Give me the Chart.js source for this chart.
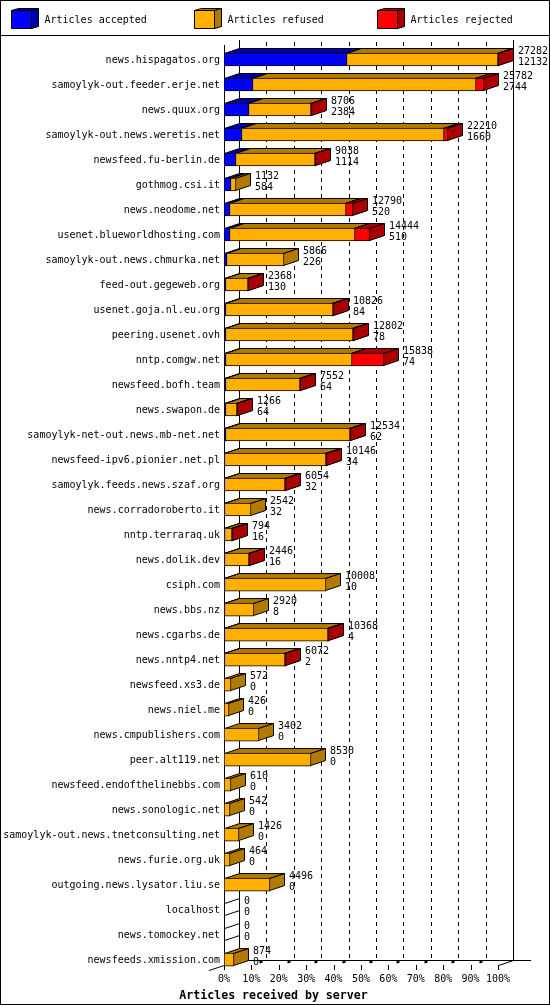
<!DOCTYPE html>
<html>
<head>
<meta charset="utf-8">
<title>Articles received by server</title>
<script src="https://cdn.jsdelivr.net/npm/chart.js@4/dist/chart.umd.min.js"></script>
<style>
  html, body { margin: 0; padding: 0; background: #fff; }
  canvas { display: block; }
</style>
</head>
<body>
<canvas id="serverChart" width="550" height="1005"></canvas>
<script>
const servers = [
  "news.hispagatos.org", "samoylyk-out.feeder.erje.net", "news.quux.org", "samoylyk-out.news.weretis.net",
  "newsfeed.fu-berlin.de", "gothmog.csi.it", "news.neodome.net", "usenet.blueworldhosting.com",
  "samoylyk-out.news.chmurka.net", "feed-out.gegeweb.org", "usenet.goja.nl.eu.org", "peering.usenet.ovh",
  "nntp.comgw.net", "newsfeed.bofh.team", "news.swapon.de", "samoylyk-net-out.news.mb-net.net",
  "newsfeed-ipv6.pionier.net.pl", "samoylyk.feeds.news.szaf.org", "news.corradoroberto.it", "nntp.terraraq.uk",
  "news.dolik.dev", "csiph.com", "news.bbs.nz", "news.cgarbs.de", "news.nntp4.net", "newsfeed.xs3.de",
  "news.niel.me", "news.cmpublishers.com", "peer.alt119.net", "newsfeed.endofthelinebbs.com",
  "news.sonologic.net", "samoylyk-out.news.tnetconsulting.net", "news.furie.org.uk",
  "outgoing.news.lysator.liu.se", "localhost", "news.tomockey.net", "newsfeeds.xmission.com"
];
const received = [
  27282, 25782, 8706, 22210, 9038, 1132, 12790, 14444, 5866, 2368, 10826, 12802, 15838, 7552, 1266, 12534,
  10146, 6054, 2542, 794, 2446, 10008, 2920, 10368, 6072, 572, 426, 3402, 8530, 610, 542, 1426, 464, 4496, 0, 0, 874
];
const accepted = [
  12132, 2744, 2384, 1660, 1114, 584, 520, 510, 226, 130, 84, 78, 74, 64, 64, 62,
  34, 32, 32, 16, 16, 10, 8, 4, 2, 0, 0, 0, 0, 0, 0, 0, 0, 0, 0, 0, 0
];
const refused = [
  15050, 22238, 6222, 20120, 7824, 548, 11570, 12434, 5640, 2138, 10642, 12624, 12564, 7388, 1102, 12372,
  10012, 5922, 2510, 678, 2330, 9998, 2912, 10264, 5970, 572, 426, 3402, 8530, 610, 542, 1426, 464, 4496, 0, 0, 874
];
const rejected = [
  100, 800, 100, 430, 100, 0, 700, 1500, 0, 100, 100, 100, 3200, 100, 100, 100,
  100, 100, 0, 100, 100, 0, 0, 100, 100, 0, 0, 0, 0, 0, 0, 0, 0, 0, 0, 0, 0
];
const percentTicks = ["0%", "10%", "20%", "30%", "40%", "50%", "60%", "70%", "80%", "90%", "100%"];
const maxReceived = 27282;

const BLACK = "#000";
const MONO = "'DejaVu Sans Mono', monospace";
const DX = 15, DY = 5;   // depth of the 3d box

Chart.defaults.font.family = MONO;
Chart.defaults.font.size = 10;
Chart.defaults.color = BLACK;

function crisp(v) { return Math.round(v) + 0.5; }

function poly(ctx, pts, fill) {
  ctx.beginPath();
  pts.forEach((p, i) => i ? ctx.lineTo(p[0], p[1]) : ctx.moveTo(p[0], p[1]));
  ctx.closePath();
  if (fill) { ctx.fillStyle = fill; ctx.fill(); }
  ctx.stroke();
}

function line(ctx, x1, y1, x2, y2) {
  ctx.beginPath();
  ctx.moveTo(x1, y1);
  ctx.lineTo(x2, y2);
  ctx.stroke();
}

// frame, legend cubes, back walls and dashed grid, all behind the bars
const backdrop = {
  id: "backdrop",
  beforeDatasetsDraw(chart) {
    const ctx = chart.ctx;
    const xs = chart.scales.x;
    ctx.save();
    ctx.strokeStyle = BLACK;
    ctx.lineWidth = 1;

    ctx.strokeRect(0.5, 0.5, 549, 1004);
    line(ctx, 0, 35.5, 550, 35.5);

    const legendX = [[11, 44.5], [194, 227.5], [377, 410.5]];
    chart.data.datasets.forEach((ds, i) => {
      const x = legendX[i][0];
      poly(ctx, [[x + .5, 10.5], [x + 7.5, 8.5], [x + 27.5, 8.5], [x + 20.5, 10.5]], ds.topColor);
      poly(ctx, [[x + 20.5, 10.5], [x + 27.5, 8.5], [x + 27.5, 26.5], [x + 20.5, 28.5]], ds.sideColor);
      poly(ctx, [[x + .5, 10.5], [x + 20.5, 10.5], [x + 20.5, 28.5], [x + .5, 28.5]], ds.backgroundColor);
      ctx.fillStyle = BLACK;
      ctx.font = "10px " + MONO;
      ctx.textAlign = "left";
      ctx.textBaseline = "middle";
      ctx.fillText(ds.label, legendX[i][1], 20.5);
    });

    percentTicks.forEach((_, i) => {
      const x = crisp(xs.getPixelForValue(i * maxReceived / 10));
      // floor diagonal and tick under the front edge
      line(ctx, x, 965, x, 970);
      if (i > 0 && i < 10) {
        ctx.lineWidth = 2;
        line(ctx, x + 8, 962.5, x + 11, 961.5);
        ctx.lineWidth = 1;
        ctx.setLineDash([4, 4]);
        line(ctx, x + DX, 42, x + DX, 960);
        ctx.setLineDash([]);
      }
    });
    line(ctx, 239.5, 40, 239.5, 960);
    line(ctx, 513.5, 40, 513.5, 960);
    line(ctx, 224.5, 45, 224.5, 965);
    line(ctx, 239, 960.5, 531, 960.5);
    line(ctx, 209, 970.5, 239.5, 960.5);
    line(ctx, 498.5, 965.5, 513.5, 960.5);
    ctx.restore();
  }
};

// tops and sides of each stack, the library paints the front faces over them
const boxes = {
  id: "boxes",
  afterDatasetsUpdate(chart) {
    chart.data.datasets.forEach((_, d) => {
      chart.getDatasetMeta(d).data.forEach(el => {
        if (Math.abs(el.x - el.base) < 0.01) return;
        el.x = Math.round(el.x) + 1;
        el.base = Math.round(el.base);
      });
    });
  },
  beforeDatasetsDraw(chart) {
    const ctx = chart.ctx;
    ctx.save();
    ctx.strokeStyle = BLACK;
    ctx.lineWidth = 1;
    ctx.lineJoin = "miter";
    servers.forEach((_, row) => {
      chart.data.datasets.forEach((ds, d) => {
        if (!ds.data[row]) return;
        const el = chart.getDatasetMeta(d).data[row];
        const top = el.y - el.height / 2 + 0.5;
        const bottom = top + el.height - 1;
        const x0 = el.base + 0.5;
        const x1 = el.x - 0.5;
        poly(ctx, [[x0, top], [x0 + DX, top - DY], [x1 + DX, top - DY], [x1, top]], ds.topColor);
        poly(ctx, [[x1, top], [x1 + DX, top - DY], [x1 + DX, bottom - DY], [x1, bottom]], ds.sideColor);
      });
      if (!received[row]) {
        const el = chart.getDatasetMeta(0).data[row];
        const top = el.y - el.height / 2 + 0.5;
        line(ctx, 224.5, top, 224.5 + DX, top - DY);
        line(ctx, 224.5, top + el.height - 1, 224.5 + DX, top + el.height - 1 - DY);
      }
    });
    ctx.restore();
  },
  afterDatasetsDraw(chart) {
    const ctx = chart.ctx;
    const xs = chart.scales.x;
    const ys = chart.scales.y;
    ctx.save();
    ctx.fillStyle = BLACK;
    ctx.font = "10px " + MONO;
    ctx.textAlign = "left";
    ctx.textBaseline = "middle";
    servers.forEach((_, row) => {
      const x = Math.round(xs.getPixelForValue(received[row])) + DX + 5;
      const y = ys.getPixelForValue(row);
      ctx.fillText(String(received[row]), x, y - 8.5);
      ctx.fillText(String(accepted[row]), x, y + 2.5);
    });
    ctx.restore();
  }
};

function barSet(label, data, front, top, side) {
  return {
    label, data,
    backgroundColor: front, topColor: top, sideColor: side,
    borderColor: BLACK, borderWidth: 1, borderSkipped: false,
    barThickness: 13
  };
}

new Chart(document.getElementById("serverChart"), {
  type: "bar",
  data: {
    labels: servers,
    datasets: [
      barSet("Articles accepted", accepted, "#0000ff", "#0000aa", "#0000aa"),
      barSet("Articles refused", refused, "#ffaf00", "#b27a00", "#b27a00"),
      barSet("Articles rejected", rejected, "#ff0000", "#aa0000", "#aa0000")
    ]
  },
  options: {
    indexAxis: "y",
    responsive: false,
    animation: false,
    devicePixelRatio: 1,
    layout: { autoPadding: false, padding: { top: 47, right: 3, left: 0, bottom: 0 } },
    plugins: {
      legend: { display: false },
      tooltip: { enabled: false },
      title: {
        display: true,
        position: "bottom",
        text: "Articles received by server",
        color: BLACK,
        font: { family: MONO, size: 11.6, weight: "bold" },
        padding: { top: 2, bottom: 2 }
      }
    },
    scales: {
      x: {
        stacked: true,
        // the area runs past 100% to leave room for the value labels: 323px wide, 274px for 100%
        min: 0,
        max: maxReceived * 323 / 274,
        afterBuildTicks(scale) {
          scale.ticks = percentTicks.map((_, i) => ({ value: i * maxReceived / 10 }));
        },
        afterFit(scale) { scale.height = 15; },
        grid: { display: false, drawTicks: false, tickLength: 0 },
        border: { display: false },
        ticks: {
          autoSkip: false,
          maxRotation: 0,
          padding: 1,
          callback: (v, i) => percentTicks[i]
        }
      },
      y: {
        stacked: true,
        afterFit(scale) { scale.width = 224; },
        grid: { display: false, drawTicks: false, tickLength: 0 },
        border: { display: false },
        ticks: { autoSkip: false, padding: 4, labelOffset: 1 }
      }
    }
  },
  plugins: [backdrop, boxes]
});
</script>
</body>
</html>
